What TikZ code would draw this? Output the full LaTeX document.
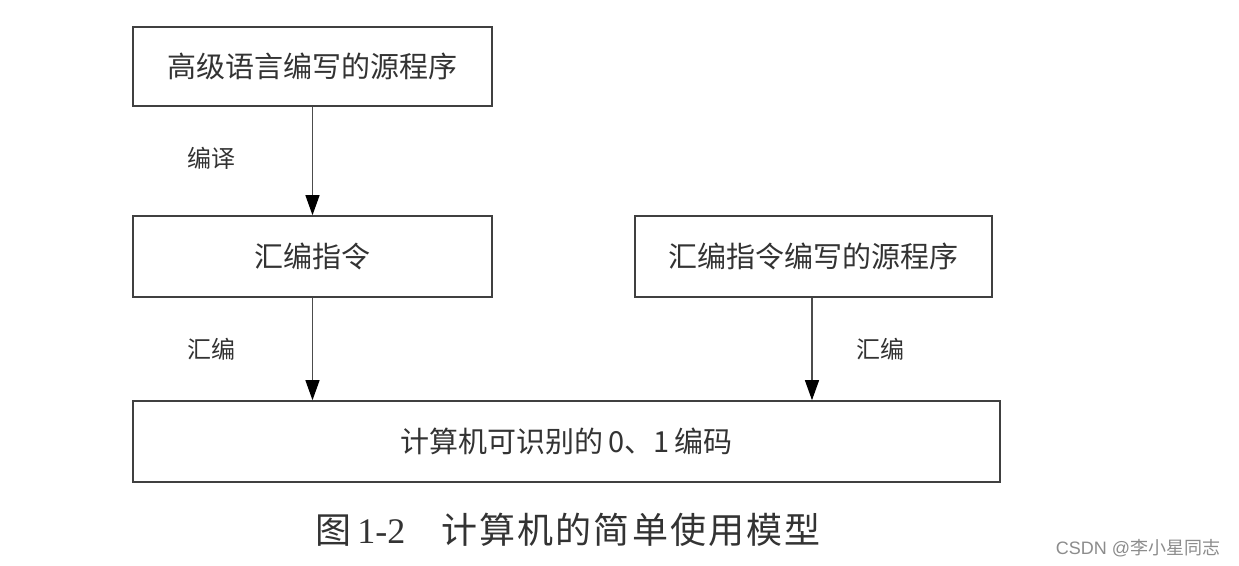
\documentclass[tikz,border=0pt]{standalone}
\usepackage{fontspec}
\setmainfont{Liberation Serif}
\newfontfamily\cjk{Noto Sans CJK SC}
\newfontfamily\wm{Liberation Sans}
\usetikzlibrary{arrows.meta}
\begin{document}
\begin{tikzpicture}[x=0.5pt,y=-0.5pt,
  box/.style={draw=black!75,line width=0.8pt,rectangle,inner sep=0pt,font=\cjk\fontsize{14.5pt}{16pt}\selectfont,text=black!80},
  lbl/.style={font=\cjk\fontsize{12pt}{14pt}\selectfont,text=black!80,inner sep=0pt},
  arr/.style={draw=black!70,line width=0.6pt,-{Triangle[width=7pt,length=10pt,color=black]}}]
\useasboundingbox[fill=white] (0,0) rectangle (1239,566);
\node[box,minimum width=179.5pt,minimum height=39.5pt] (b1) at (312.5,66.5) {高级语言编写的源程序};
\node[box,minimum width=179.5pt,minimum height=40.5pt] (b2) at (312.5,256.5) {汇编指令};
\node[box,minimum width=178.5pt,minimum height=40.5pt] (b3) at (813.5,256.5) {汇编指令编写的源程序};
\node[box,minimum width=433.5pt,minimum height=40.5pt] (b4) at (566.5,441.5) {计算机可识别的\,0、1\,编码};
\node[lbl] (l1) at (211,158) {编译};
\node[lbl] (l2) at (211,349) {汇编};
\node[lbl] (l3) at (880,349) {汇编};
\draw[arr] (b1.south) -- (b2.north);
\draw[arr] (b2.south) -- (b2.south |- b4.north);
\draw[arr] ([xshift=-0.75pt]b3.south) -- ([xshift=-0.75pt]b3.south |- b4.north);
\node[inner sep=0pt,text=black!80] (cap) at (568,530) {\fontsize{18pt}{20pt}\selectfont{\cjk 图}\,1-2\hspace{18pt}{\cjk\addfontfeature{LetterSpace=6}计算机的简单使用模型}};
\node[inner sep=0pt,text=black!45,font=\fontsize{9pt}{10pt}\selectfont] (wm) at (1138,548) {{\wm CSDN @}{\cjk 李小星同志}};
\end{tikzpicture}
\end{document}
